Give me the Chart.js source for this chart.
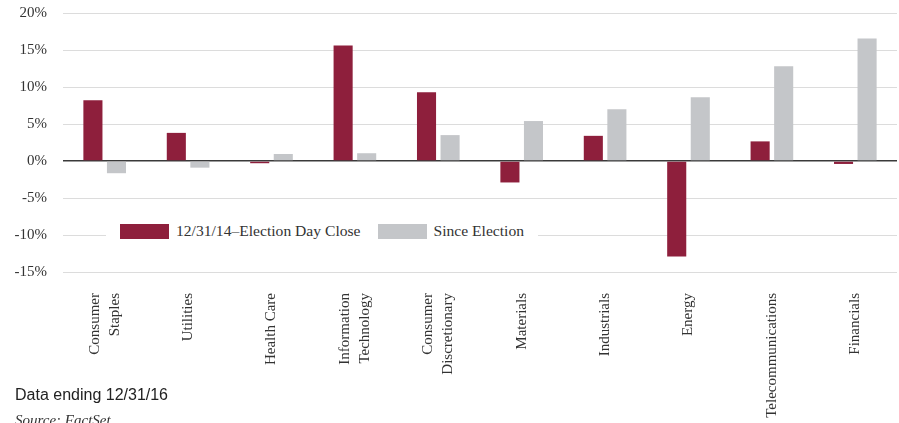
<!DOCTYPE html>
<html>
<head>
<meta charset="utf-8">
<script src="https://cdn.jsdelivr.net/npm/chart.js@4"></script>
<style>
  html, body { margin: 0; padding: 0; background: #fff; }
  #wrap { position: relative; width: 899px; height: 423px; overflow: hidden; }
  canvas { position: absolute; left: 0; top: -12px; }
  #legend { position: absolute; left: 106px; top: 221px; background: #fff; padding: 0 14px;
            display: flex; align-items: center; font: 15.6px "Liberation Serif", serif; color: #333; height: 20px; }
  #legend .item { display: flex; align-items: center; margin-right: 17px; }
  #legend .item:last-child { margin-right: 0; }
  #legend .box { width: 49px; height: 15px; margin-right: 7px; }
  #note { position: absolute; left: 15px; top: 386px; font: 16px "Liberation Sans", Arial, sans-serif; color: #222; }
  #source { position: absolute; left: 15px; top: 412px; font: italic 15px "Liberation Serif", serif; color: #333; }
</style>
</head>
<body>
<div id="wrap">
  <canvas id="c" width="899" height="435"></canvas>
  <div id="legend"></div>
  <div id="note">Data ending 12/31/16</div>
  <div id="source">Source: FactSet</div>
</div>
<script>
const categories = [
  ["Consumer", "Staples"],
  ["Utilities"],
  ["Health Care"],
  ["Information", "Technology"],
  ["Consumer", "Discretionary"],
  ["Materials"],
  ["Industrials"],
  ["Energy"],
  ["Telecommunications"],
  ["Financials"]
];
const seriesNames = ["12/31/14\u2013Election Day Close", "Since Election"];
const preElection = [8.2, 3.8, -0.3, 15.6, 9.3, -2.9, 3.4, -12.9, 2.65, -0.4];
const sinceElection = [-1.65, -0.9, 0.95, 1.05, 3.5, 5.4, 7.0, 8.6, 12.8, 16.55];
const seriesColors = ["#8E1F3C", "#C4C6C9"];
const yTicks = [-15, -10, -5, 0, 5, 10, 15, 20];

const FONT = '"Liberation Serif", "Times New Roman", serif';

const xLabelPlugin = {
  id: 'xLabels',
  afterDraw(chart) {
    const ctx = chart.ctx;
    const xs = chart.scales.x;
    const top = chart.chartArea.bottom + 21;
    const lh = 20;
    ctx.save();
    ctx.font = '15px ' + FONT;
    ctx.fillStyle = '#333';
    ctx.textAlign = 'right';
    ctx.textBaseline = 'middle';
    categories.forEach((lines, i) => {
      const cx = xs.getPixelForTick(i);
      lines.forEach((line, j) => {
        const lx = cx + (j - (lines.length - 1) / 2) * lh;
        ctx.save();
        ctx.translate(lx, top);
        ctx.rotate(-Math.PI / 2);
        ctx.fillText(line, 0, 0);
        ctx.restore();
      });
    });
    ctx.restore();
  }
};

new Chart(document.getElementById('c'), {
  type: 'bar',
  data: {
    labels: categories.map(l => l.join(' ')),
    datasets: [
      { label: seriesNames[0], data: preElection, backgroundColor: seriesColors[0] },
      { label: seriesNames[1], data: sinceElection, backgroundColor: seriesColors[1] }
    ]
  },
  options: {
    responsive: false,
    animation: false,
    devicePixelRatio: 1,
    layout: { padding: { top: 0, right: 2, left: 0, bottom: 0 } },
    datasets: { bar: { categoryPercentage: 0.565, barPercentage: 0.81 } },
    plugins: { legend: { display: false }, tooltip: { enabled: false } },
    scales: {
      x: {
        grid: { display: false, drawTicks: false },
        border: { display: false },
        ticks: { display: false },
        afterFit(s) { s.height = 151; }
      },
      y: {
        min: -15, max: 20,
        afterBuildTicks(s) { s.ticks = yTicks.map(v => ({ value: v })); },
        afterFit(s) { s.width = 63; },
        border: { display: false },
        grid: {
          drawTicks: false,
          color: ctx => ctx.tick && ctx.tick.value === 0 ? '#3a3a3a' : '#dcdcdc',
          lineWidth: ctx => ctx.tick && ctx.tick.value === 0 ? 1.5 : 1
        },
        ticks: {
          padding: 16,
          color: '#333',
          font: { family: FONT, size: 15 },
          callback: v => v + '%'
        }
      }
    }
  },
  plugins: [xLabelPlugin]
});

const legend = document.getElementById('legend');
seriesNames.forEach((name, i) => {
  const it = document.createElement('div');
  it.className = 'item';
  const b = document.createElement('div');
  b.className = 'box';
  b.style.background = seriesColors[i];
  const t = document.createElement('span');
  t.textContent = name;
  it.appendChild(b); it.appendChild(t);
  legend.appendChild(it);
});
</script>
</body>
</html>
